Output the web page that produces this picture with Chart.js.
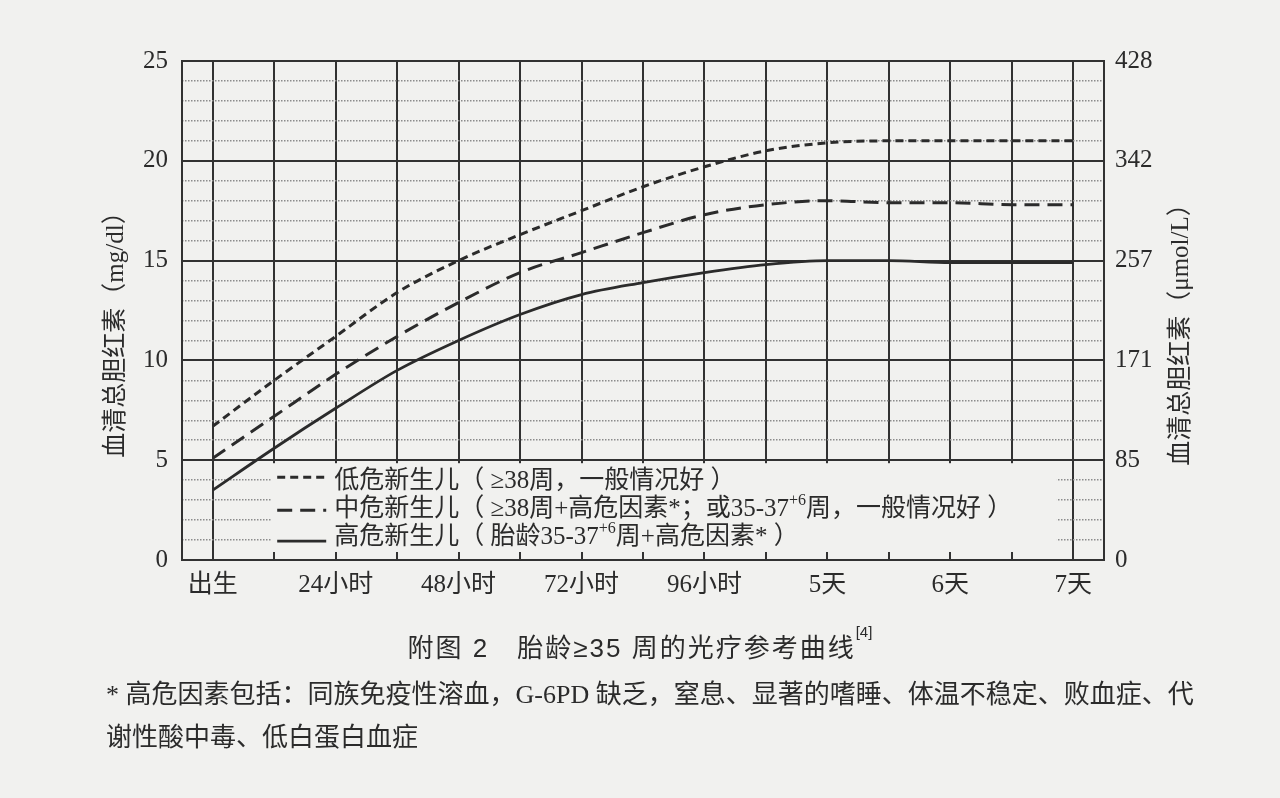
<!DOCTYPE html>
<html><head><meta charset="utf-8">
<script src="https://cdn.jsdelivr.net/npm/chart.js@4.4.1/dist/chart.umd.min.js"></script>
<style>
html,body{margin:0;padding:0;background:#f1f1ef;width:1280px;height:798px;overflow:hidden;}
#wrap{position:relative;width:1280px;height:798px;}
canvas{position:absolute;left:0;top:0;}
.cap{position:absolute;left:0;width:1280px;text-align:center;top:627px;font-size:26px;font-family:"Liberation Sans","Noto Sans CJK SC",sans-serif;color:#2b2b2b;letter-spacing:2px;}
.cap sup{font-size:15px;vertical-align:top;position:relative;top:-4px;letter-spacing:0;}
.note{position:absolute;left:106px;font-size:26px;font-family:"Liberation Serif","Noto Sans CJK SC",serif;color:#2b2b2b;white-space:nowrap;}
</style></head>
<body><div id="wrap"><canvas id="c" width="1280" height="798"></canvas>
<div class="cap">附图 2　胎龄≥35 周的光疗参考曲线<sup>[4]</sup></div>
<div class="note" style="top:673px">* 高危因素包括：同族免疫性溶血，G-6PD 缺乏，窒息、显著的嗜睡、体温不稳定、败血症、代</div>
<div class="note" style="top:716px">谢性酸中毒、低白蛋白血症</div>
</div>
<script>
// ---- data ----
const hours = [0, 12, 24, 36, 48, 60, 72, 84, 96, 108, 120, 132, 144, 156, 168];
const lowRisk    = [6.7, 9.0, 11.2, 13.4, 15.0, 16.3, 17.5, 18.7, 19.7, 20.5, 20.9, 21.0, 21.0, 21.0, 21.0];
const mediumRisk = [5.1, 7.2, 9.3, 11.2, 12.9, 14.4, 15.4, 16.4, 17.3, 17.8, 18.0, 17.9, 17.9, 17.8, 17.8];
const highRisk   = [3.5, 5.6, 7.6, 9.5, 11.0, 12.3, 13.3, 13.9, 14.4, 14.8, 15.0, 15.0, 14.9, 14.9, 14.9];
const seriesNames = [
  '低危新生儿（ ≥38周，一般情况好 ）',
  '中危新生儿（ ≥38周+高危因素*；或35-37^+6^周，一般情况好 ）',
  '高危新生儿（ 胎龄35-37^+6^周+高危因素* ）'
];
const xTickHours = [0, 12, 24, 36, 48, 60, 72, 84, 96, 108, 120, 132, 144, 156, 168];
const xTickLabels = ['出生', '', '24小时', '', '48小时', '', '72小时', '', '96小时', '', '5天', '', '6天', '', '7天'];
const yMajorTicks = [0, 5, 10, 15, 20, 25];
const yTickLabels = ['0', '5', '10', '15', '20', '25'];
const y2TickLabels = ['0', '85', '171', '257', '342', '428'];
const axisTitles = ['血清总胆红素（mg/dl）', '血清总胆红素（μmol/L）'];

// ---- style ----
const INK = '#2b2b2b';
const GRID_DARK = '#323232';
const GRID_DOT = '#8c8c8c';
const BG = '#f1f1ef';
const FONT_MIX = '"Liberation Serif", "Noto Sans CJK SC", serif';

function drawRich(ctx, str, x, y, size) {
  const parts = str.split('^');
  parts.forEach((p, i) => {
    if (!p) return;
    const sup = i % 2 === 1;
    ctx.font = (sup ? Math.round(size * 0.62) : size) + 'px ' + FONT_MIX;
    ctx.fillText(p, x, sup ? y - size * 0.33 : y);
    x += ctx.measureText(p).width;
  });
}

const overlay = {
  id: 'overlay',
  beforeDatasetsDraw(chart) {
    const {ctx, chartArea: ca, scales: {x, y}} = chart;
    const L = x.getPixelForValue(12) - 3;
    const R = x.getPixelForValue(164.8);
    const T = y.getPixelForValue(5) + 3;
    const B = ca.bottom - 8;
    ctx.save();
    ctx.fillStyle = BG;
    ctx.fillRect(L, T, R - L, B - T);
    const sampleY = [T + 14, T + 47, T + 78];
    const textY = [T + 18, T + 46, T + 74];
    chart.data.datasets.forEach((ds, i) => {
      ctx.beginPath();
      ctx.setLineDash(ds.borderDash || []);
      ctx.lineWidth = ds.borderWidth;
      ctx.strokeStyle = ds.borderColor;
      ctx.moveTo(L + 6, sampleY[i]);
      ctx.lineTo(L + 55, sampleY[i]);
      ctx.stroke();
      ctx.setLineDash([]);
      ctx.fillStyle = INK;
      ctx.textBaseline = 'middle';
      ctx.textAlign = 'left';
      drawRich(ctx, ds.label, L + 63, textY[i], 25);
    });
    ctx.restore();
  },
  afterDraw(chart) {
    const {ctx, chartArea: ca} = chart;
    const cy = (ca.top + ca.bottom) / 2 + 18;
    ctx.save();
    ctx.fillStyle = INK;
    ctx.font = '25px ' + FONT_MIX;
    ctx.textAlign = 'center';
    ctx.textBaseline = 'middle';
    [[ca.left - 66, axisTitles[0]], [ca.right + 77, axisTitles[1]]].forEach(([cx, t]) => {
      ctx.save();
      ctx.translate(cx, cy);
      ctx.rotate(-Math.PI / 2);
      ctx.fillText(t, 0, 0);
      ctx.restore();
    });
    ctx.restore();
  }
};

const tickFont = {family: FONT_MIX, size: 25};
const majorTicks = s => { s.ticks = yMajorTicks.map(v => ({value: v})); };

new Chart(document.getElementById('c'), {
  type: 'line',
  data: {
    datasets: [
      {label: seriesNames[0], data: hours.map((h, i) => ({x: h, y: lowRisk[i]})),
       borderColor: '#2b2b2b', borderWidth: 3, borderDash: [8, 5]},
      {label: seriesNames[1], data: hours.map((h, i) => ({x: h, y: mediumRisk[i]})),
       borderColor: '#2b2b2b', borderWidth: 3, borderDash: [15, 8]},
      {label: seriesNames[2], data: hours.map((h, i) => ({x: h, y: highRisk[i]})),
       borderColor: '#2b2b2b', borderWidth: 2.8, borderDash: []}
    ]
  },
  options: {
    responsive: false,
    animation: false,
    events: [],
    layout: {padding: {left: 100, right: 40, top: 61, bottom: 198}},
    elements: {point: {radius: 0}, line: {cubicInterpolationMode: 'monotone', fill: false}},
    plugins: {legend: {display: false}, tooltip: {enabled: false}},
    scales: {
      x: {
        type: 'linear', min: -6, max: 174,
        afterBuildTicks: s => { s.ticks = xTickHours.map(v => ({value: v})); },
        afterFit: s => { s.height = 40; },
        grid: {color: GRID_DARK, lineWidth: 2, drawTicks: false},
        border: {color: GRID_DARK, width: 2},
        ticks: {padding: 10, font: tickFont, color: INK, autoSkip: false, maxRotation: 0,
                callback: v => xTickLabels[xTickHours.indexOf(v)]}
      },
      yMinor: {
        type: 'linear', position: 'left', min: 0, max: 25,
        ticks: {display: false, stepSize: 1},
        grid: {color: c => (c.tick && c.tick.value % 5 === 0) ? 'rgba(0,0,0,0)' : GRID_DOT,
               lineWidth: 1.5, drawTicks: false},
        border: {display: false, dash: [1.5, 1.5]}
      },
      y: {
        type: 'linear', position: 'left', min: 0, max: 25,
        afterBuildTicks: majorTicks,
        afterFit: s => { s.width = 82; },
        grid: {color: GRID_DARK, lineWidth: 2, drawTicks: false},
        border: {color: GRID_DARK, width: 2},
        ticks: {padding: 14, font: tickFont, color: INK,
                callback: v => yTickLabels[yMajorTicks.indexOf(v)]}
      },
      y2: {
        type: 'linear', position: 'right', min: 0, max: 25,
        afterBuildTicks: majorTicks,
        afterFit: s => { s.width = 136; },
        grid: {drawOnChartArea: false, drawTicks: false},
        border: {color: GRID_DARK, width: 2},
        ticks: {padding: 11, font: tickFont, color: INK,
                callback: v => y2TickLabels[yMajorTicks.indexOf(v)]}
      }
    }
  },
  plugins: [overlay]
});
</script>
</body></html>
